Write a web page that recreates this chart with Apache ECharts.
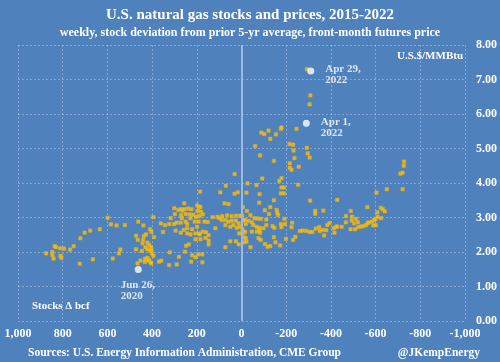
<!DOCTYPE html>
<html><head><meta charset="utf-8">
<script src="https://cdn.jsdelivr.net/npm/echarts@6/dist/echarts.min.js"></script>
<style>html,body{margin:0;padding:0;background:#4F81BD;}#c{width:500px;height:362px;}</style>
</head><body><div id="c"></div>
<script>
// Weekly stock deviation from prior 5-yr average (bcf) and front-month futures price ($/MMBtu)
const stockDev = [874,847,846,841,836,831,812,810,806,794,767,751,724,721,702,677,665,634,599,584,576,559,548,542,522,472,472,465,464,462,452,446,443,440,439,437,432,432,430,427,421,421,421,416,413,413,409,409,403,404,403,404,401,394,394,391,406,369,359,361,351,342,324,323,321,317,302,301,298,295,290,290,283,280,272,272,272,270,267,265,258,256,256,253,250,250,248,243,243,243,239,236,232,228,228,225,224,221,221,216,209,206,206,206,203,199,199,197,194,192,191,191,188,187,185,184,184,182,176,175,173,173,166,161,159,151,147,147,147,129,117,107,99,95,88,86,76,72,72,72,70,64,58,58,50,50,44,43,36,31,31,25,25,24,21,16,13,12,10,6,6,-3,-6,-4,-10,-9,-10,-8,-16,-16,-19,-19,-22,-22,-24,-27,-31,-40,-40,-46,-46,-53,-58,-61,-67,-68,-68,-72,-76,-79,-80,-80,-81,-83,-83,-86,-86,-89,-93,-98,-102,-104,-105,-111,-111,-117,-121,-123,-128,-129,-129,-139,-145,-145,-145,-147,-152,-154,-157,-160,-164,-169,-173,-176,-179,-176,-176,-179,-179,-179,-190,-190,-192,-194,-199,-215,-216,-216,-224,-224,-227,-231,-231,-233,-237,-241,-246,-253,-256,-261,-274,-290,-292,-293,-296,-305,-308,-305,-305,-307,-317,-330,-330,-332,-348,-350,-364,-366,-370,-379,-384,-394,-412,-416,-422,-428,-428,-448,-467,-467,-488,-489,-494,-493,-504,-508,-512,-521,-523,-535,-545,-557,-563,-564,-570,-584,-590,-594,-600,-601,-604,-608,-609,-624,-624,-632,-641,-650,-711,-721,-721,-727,-726];
const price = [1.96,2.00,1.91,1.81,2.17,2.14,2.11,1.89,1.83,2.10,2.07,2.17,1.66,2.40,2.56,2.62,1.79,2.66,2.99,2.80,1.81,2.77,1.96,2.07,2.78,2.47,2.08,1.67,2.35,2.88,1.75,2.03,2.25,2.35,2.77,2.46,1.80,1.71,2.14,2.51,2.27,2.08,1.83,1.77,2.20,1.75,2.66,2.04,2.58,2.14,2.05,1.67,1.96,3.01,1.89,2.43,1.69,1.72,1.75,2.83,2.58,2.78,1.62,2.81,1.99,2.98,2.81,3.27,3.10,2.62,2.85,1.64,3.22,1.86,3.24,2.85,2.56,3.07,2.98,3.20,2.64,3.41,3.24,2.01,3.10,2.88,2.18,2.81,2.69,2.54,3.26,2.22,3.09,2.98,2.51,1.72,3.24,2.66,1.91,3.08,2.88,2.54,2.37,1.85,3.02,3.35,2.73,3.19,1.93,2.88,3.30,2.54,3.04,2.51,3.75,2.37,3.31,3.17,1.93,1.70,3.09,2.59,2.88,2.41,2.57,2.87,2.49,2.33,2.22,3.01,2.69,3.02,2.98,3.73,2.93,3.04,3.41,2.93,2.78,2.14,3.92,3.06,3.39,2.88,2.73,2.31,3.04,2.91,2.78,4.26,3.69,2.91,2.31,3.05,2.70,3.73,2.83,2.22,2.54,2.73,3.05,3.05,3.30,2.66,2.28,2.56,2.43,2.91,2.93,2.59,2.81,2.40,2.30,3.72,3.19,3.99,2.90,3.07,2.14,2.86,2.59,2.78,2.98,5.07,3.94,2.73,2.59,2.97,2.40,3.43,2.70,2.62,3.68,4.80,2.56,2.96,2.35,5.46,4.13,2.69,5.42,3.21,2.23,2.94,2.78,2.15,5.52,3.10,2.17,5.28,3.30,2.75,4.64,3.50,2.43,2.70,2.28,5.41,3.22,3.14,3.07,4.06,2.19,5.57,5.61,3.70,2.81,4.14,3.87,2.72,3.87,3.70,2.96,2.81,2.38,5.13,4.57,4.44,4.38,2.72,2.85,5.11,2.35,4.94,4.72,2.44,5.57,3.95,4.47,2.61,2.62,2.61,5.02,7.30,4.86,6.28,6.54,4.74,2.58,3.49,2.58,3.19,3.11,2.68,2.72,2.61,2.64,3.20,2.48,2.63,2.78,2.84,2.69,2.56,2.72,3.51,2.74,2.73,3.04,2.86,2.66,3.19,3.02,2.91,2.83,2.66,2.96,2.86,2.72,2.74,2.75,2.78,3.30,2.83,2.86,2.88,2.77,2.93,2.96,2.78,3.72,3.15,3.02,3.28,2.98,3.24,3.18,3.82,4.27,4.30,3.82,4.62,4.50];
const highlightLabels = ['Apr 29,\n2022', 'Apr 1,\n2022', 'Jun 26,\n2020'];
const highlightStock = [-310, -290, 462];
const highlightPrice = [7.25, 5.73, 1.49];

const serif = '"Liberation Serif","DejaVu Serif",serif';
const pts = stockDev.map((s, i) => [s, price[i]]);
const labelPos = [[18, -4], [18, -3], [-14, 14]];
const hl = highlightStock.map((s, i) => ({
  value: [s, highlightPrice[i]], name: highlightLabels[i],
  label: {position: labelPos[i]}
}));

const chart = echarts.init(document.getElementById('c'), null, {renderer: 'canvas'});
const gridLine = {show: true, lineStyle: {color: 'rgba(200,215,235,0.45)', type: [2, 2], width: 1}};
chart.setOption({
  backgroundColor: '#4F81BD',
  animation: false,
  grid: {left: 18, right: 32, top: 45, bottom: 41, containLabel: false},
  title: [
    {text: 'U.S. natural gas stocks and prices, 2015-2022', left: 'center', top: 3,
     textStyle: {color: '#fff', fontFamily: serif, fontWeight: 'bold', fontSize: 15}},
    {text: 'weekly, stock deviation from prior 5-yr average, front-month futures price', left: 'center', top: 22,
     textStyle: {color: '#fff', fontFamily: serif, fontWeight: 'bold', fontSize: 12}}
  ],
  graphic: [
    {type: 'text', left: 397, top: 51, style: {text: 'U.S.$/MMBtu', fill: '#fff', font: 'bold 11px ' + serif}},
    {type: 'text', left: 32, top: 301, style: {text: 'Stocks Δ bcf', fill: '#fff', font: 'bold 11px ' + serif}},
    {type: 'text', left: 28, top: 347, style: {text: 'Sources: U.S. Energy Information Administration, CME Group', fill: '#fff', font: 'bold 11.5px ' + serif}},
    {type: 'text', right: 20, top: 347, style: {text: '@JKempEnergy', fill: '#fff', font: 'bold 11.5px ' + serif}}
  ],
  xAxis: {
    type: 'value', min: -1000, max: 1000, interval: 200, inverse: true,
    axisLine: {show: false}, axisTick: {show: false},
    splitLine: gridLine,
    axisLabel: {color: '#fff', fontFamily: serif, fontWeight: 'bold', fontSize: 12, margin: 7,
      formatter: v => (v < 0 ? '-' : '') + Math.abs(v).toLocaleString('en-US')}
  },
  yAxis: {
    type: 'value', min: 0, max: 8, interval: 1, position: 'right',
    axisLine: {show: false}, axisTick: {show: false},
    splitLine: gridLine,
    axisLabel: {color: '#fff', fontFamily: serif, fontWeight: 'bold', fontSize: 12, margin: 11,
      formatter: v => v.toFixed(2)}
  },
  series: [
    {type: 'scatter', data: pts, symbol: 'rect', symbolSize: 3.5,
     itemStyle: {color: '#FFC000', borderColor: '#E8B020', borderWidth: 0.5},
     markLine: {silent: true, symbol: 'none', label: {show: false},
       lineStyle: {color: '#9DB9DE', type: 'solid', width: 2},
       data: [{xAxis: 0}]}},
    {type: 'scatter', data: hl, symbol: 'circle', symbolSize: 7, z: 5,
     itemStyle: {color: '#fff'},
     label: {show: true, color: '#fff', fontFamily: serif, fontWeight: 'bold', fontSize: 11,
       lineHeight: 11, align: 'left', verticalAlign: 'top',
       formatter: p => p.name}}
  ]
});
</script></body></html>
